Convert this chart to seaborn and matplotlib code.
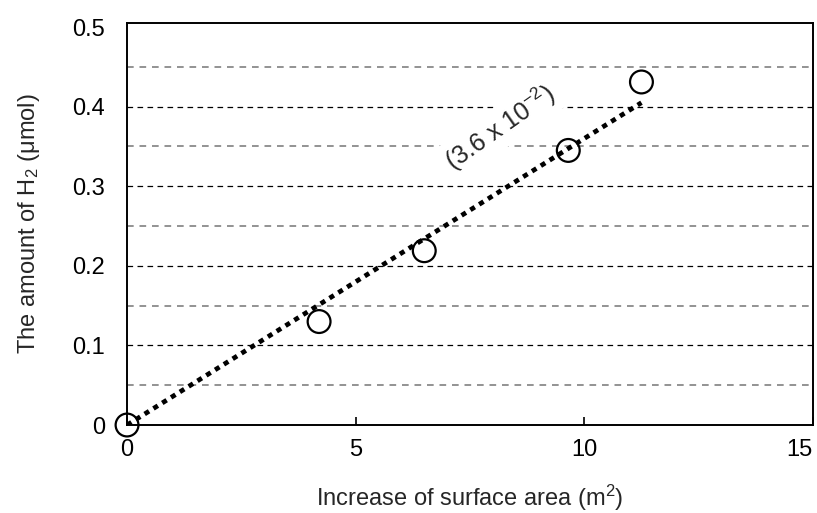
import matplotlib
matplotlib.use("Agg")
import matplotlib.pyplot as plt
import seaborn as sns
import numpy as np
import pandas as pd

# data
surface_area = [0.0, 4.2, 6.5, 9.65, 11.25]      # m^2
h2_amount = [0.0, 0.13, 0.219, 0.345, 0.431]     # umol
slope = 0.036                                     # fitted line through origin
x_ticks = [0, 5, 10, 15]
y_major = [0, 0.1, 0.2, 0.3, 0.4, 0.5]
y_major_labels = ["0", "0.1", "0.2", "0.3", "0.4", "0.5"]
y_minor = [0.05, 0.15, 0.25, 0.35, 0.45]

sns.set_theme(style="ticks")
plt.rcParams['font.family'] = ['Liberation Sans', 'DejaVu Sans']
plt.rcParams['mathtext.fontset'] = 'custom'
plt.rcParams['mathtext.rm'] = 'Liberation Sans'
plt.rcParams['mathtext.it'] = 'Liberation Sans'

df = pd.DataFrame({'x': surface_area, 'y': h2_amount})
fit_x = np.array([0, max(surface_area)])
fit = pd.DataFrame({'x': fit_x, 'y': slope * fit_x})

fig = plt.figure(figsize=(8.17, 5.13), dpi=100)
ax = fig.add_axes([0.1555, 0.1715, 0.8395, 0.7835])

# grid lines
for v in y_minor:
    ax.axhline(v, color='#808080', lw=1.2, ls=(0, (4, 3.5)), zorder=0)
for v in y_major[1:-1]:
    ax.axhline(v, color='black', lw=0.9, ls=(0, (4.5, 3.5)), zorder=0)

sns.lineplot(data=fit, x='x', y='y', ax=ax, color='black', lw=3.4,
             linestyle=(0, (1.1, 1.1)), zorder=3)
sns.scatterplot(data=df, x='x', y='y', ax=ax, s=270, facecolor='none',
                edgecolor='black', linewidth=1.6, zorder=4, clip_on=False)

ax.text(8.15, 0.373, '(3.6 x 10$^{-2}$)', rotation=35, fontsize=18,
        ha='center', va='center', zorder=2,
        bbox=dict(facecolor='white', edgecolor='none', pad=3))

ax.set_xlim(0, 15)
ax.set_ylim(0, 0.505)
ax.set_xticks(x_ticks)
ax.set_yticks(y_major)
ax.set_yticklabels(y_major_labels)
ax.tick_params(axis='x', direction='in', length=6, width=1.2, labelsize=17, pad=10, colors='black')
ax.tick_params(axis='y', length=0, labelsize=17, pad=16, colors='black')
ax.get_xticklabels()[-1].set_horizontalalignment('right')
for s in ax.spines.values():
    s.set_color('black')
    s.set_linewidth(1.4)

ax.set_xlabel('Increase of surface area (m$^2$)', fontsize=17, labelpad=16)
ax.set_ylabel('The amount of H$_2$ (μmol)', fontsize=17, labelpad=22)

plt.savefig('out.png', dpi=100)
